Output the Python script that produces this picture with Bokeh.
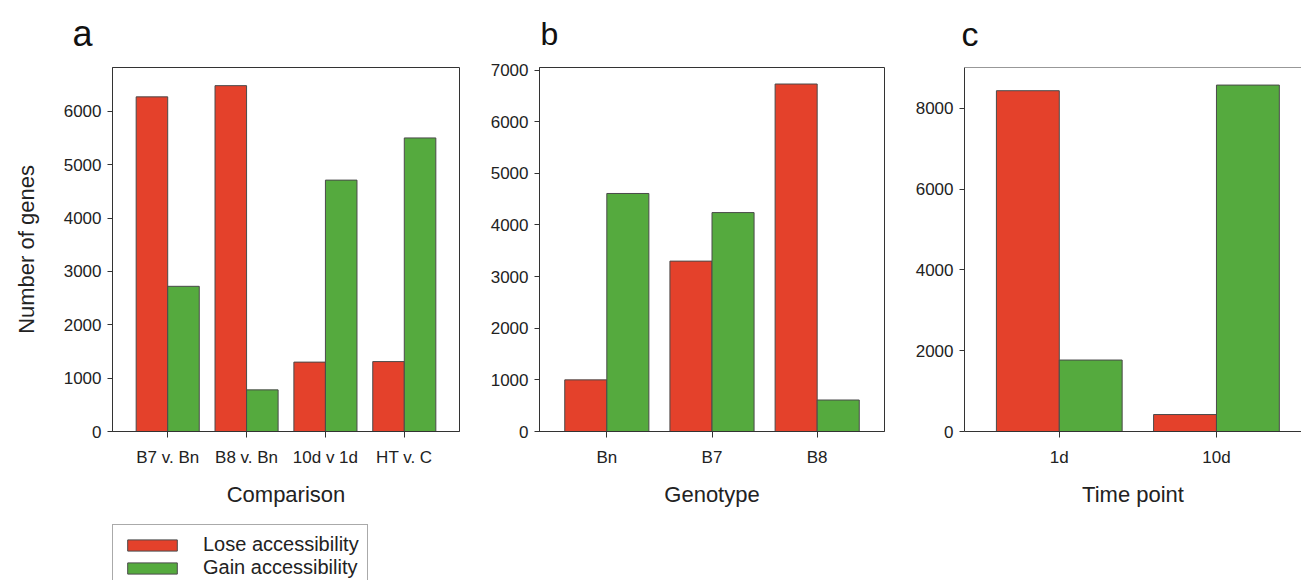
from bokeh.plotting import figure
from bokeh.layouts import row, column
from bokeh.models import Range1d, FixedTicker, Legend, LegendItem, Span
from bokeh.embed import file_html
from bokeh.resources import INLINE

FONT = "Liberation Sans"
RED = "#E4412B"
GREEN = "#55AA3E"
EDGE = "#4a4a4a"
AXC = "#333333"
TXT = "#222222"

# ---- data ----
comp_cats = ["B7 v. Bn", "B8 v. Bn", "10d v 1d", "HT v. C"]
comp_lose = [6270, 6480, 1300, 1310]
comp_gain = [2720, 780, 4710, 5500]

geno_cats = ["Bn", "B7", "B8"]
geno_lose = [1000, 3300, 6730]
geno_gain = [4610, 4240, 610]

time_cats = ["1d", "10d"]
time_lose = [8440, 420]
time_gain = [1770, 8580]

a_yticks = [0, 1000, 2000, 3000, 4000, 5000, 6000]
b_yticks = [0, 1000, 2000, 3000, 4000, 5000, 6000, 7000]
c_yticks = [0, 2000, 4000, 6000, 8000]

series_names = ["Lose accessibility", "Gain accessibility"]


def make_panel(letter, letter_size, letter_offset, letter_standoff, cats, lose, gain,
               xlabel, ylabel, xr, yr, yticks, frame_width, min_left, min_right,
               min_bottom, outline=True):
    p = figure(frame_width=frame_width, frame_height=364,
               x_range=Range1d(*xr), y_range=Range1d(*yr),
               output_backend="svg", toolbar_location=None,
               min_border_left=min_left, min_border_right=min_right,
               min_border_top=67, min_border_bottom=min_bottom,
               background_fill_color="white", border_fill_color="white")
    p.outline_line_color = AXC if outline else None
    p.outline_line_width = 1
    p.xgrid.visible = False
    p.ygrid.visible = False

    idx = list(range(len(cats)))
    p.vbar(x=[i - 0.2 for i in idx], top=lose, width=0.4, bottom=0,
           fill_color=RED, line_color=EDGE, line_width=1)
    p.vbar(x=[i + 0.2 for i in idx], top=gain, width=0.4, bottom=0,
           fill_color=GREEN, line_color=EDGE, line_width=1)

    p.xaxis.ticker = FixedTicker(ticks=idx)
    p.xaxis.major_label_overrides = {i: c for i, c in enumerate(cats)}
    p.yaxis.ticker = FixedTicker(ticks=yticks)
    for ax in (p.xaxis, p.yaxis):
        ax.axis_line_color = AXC
        ax.major_tick_line_color = AXC
        ax.minor_tick_line_color = None
        ax.major_tick_in = 0
        ax.major_label_text_font = FONT
        ax.major_label_text_font_size = "17px"
        ax.major_label_text_color = TXT
        ax.axis_label_text_font = FONT
        ax.axis_label_text_font_size = "22px"
        ax.axis_label_text_font_style = "normal"
        ax.axis_label_text_color = TXT
    p.xaxis.major_tick_out = 6
    p.yaxis.major_tick_out = 5
    p.xaxis.major_label_standoff = 10
    p.yaxis.major_label_standoff = 6
    p.xaxis.axis_label = xlabel
    p.xaxis.axis_label_standoff = 12
    if ylabel:
        p.yaxis.axis_label = ylabel
        p.yaxis.axis_label_standoff = 22

    p.title.text = letter
    p.title.text_font = FONT
    p.title.text_font_size = letter_size
    p.title.text_font_style = "normal"
    p.title.text_color = "#111111"
    p.title.align = "left"
    p.title.vertical_align = "top"
    p.title.offset = letter_offset
    p.title.standoff = letter_standoff

    if not outline:
        p.add_layout(Span(location=yr[1], dimension="width", line_color=AXC, line_width=1))
    return p


pa = make_panel("a", "36px", -40, 23, comp_cats, comp_lose, comp_gain,
                "Comparison", "Number of genes", (-0.7, 3.7), (0, 6820),
                a_yticks, 347, 112, 11, 84)
pb = make_panel("b", "32px", 1, 27, geno_cats, geno_lose, geno_gain, "Genotype", None,
                (-0.64, 2.64), (0, 7050), b_yticks, 345, 69, 11, 149)
pc = make_panel("c", "34px", -3, 25, time_cats, time_lose, time_gain, "Time point", None,
                (-0.603, 1.541), (0, 9015), c_yticks, 337, 69, 0, 149, outline=False)

# legend strip under panel a (hidden copies of panel a's series supply the legend swatches)
pl = figure(frame_width=347, height=65, x_range=Range1d(-0.7, 3.7), y_range=Range1d(0, 6820),
            x_axis_type=None, y_axis_type=None, output_backend="svg",
            toolbar_location=None, min_border_left=112, min_border_right=11,
            min_border_top=0, min_border_bottom=0, outline_line_color=None,
            background_fill_color="white", border_fill_color="white")
pl.xgrid.visible = False
pl.ygrid.visible = False
idx_a = list(range(len(comp_cats)))
lr1 = pl.vbar(x=[i - 0.2 for i in idx_a], top=comp_lose, width=0.4, bottom=0,
              fill_color=RED, line_color=EDGE, line_width=1, visible=False)
lr2 = pl.vbar(x=[i + 0.2 for i in idx_a], top=comp_gain, width=0.4, bottom=0,
              fill_color=GREEN, line_color=EDGE, line_width=1, visible=False)
legend = Legend(items=[LegendItem(label=series_names[0], renderers=[lr1]),
                       LegendItem(label=series_names[1], renderers=[lr2])],
                location=(0, -8))
legend.border_line_color = "#555555"
legend.border_line_width = 1
legend.background_fill_color = "white"
legend.background_fill_alpha = 1
legend.label_text_font = FONT
legend.label_text_font_size = "20px"
legend.label_text_color = TXT
legend.glyph_width = 62
legend.glyph_height = 14
legend.label_height = 20
legend.label_standoff = 20
legend.spacing = 0
legend.padding = 8
legend.margin = 0
legend.click_policy = "none"
pl.add_layout(legend)

layout = row(column(pa, pl, spacing=0), pb, pc, spacing=0)
open("out.html", "w").write(file_html(layout, INLINE))
